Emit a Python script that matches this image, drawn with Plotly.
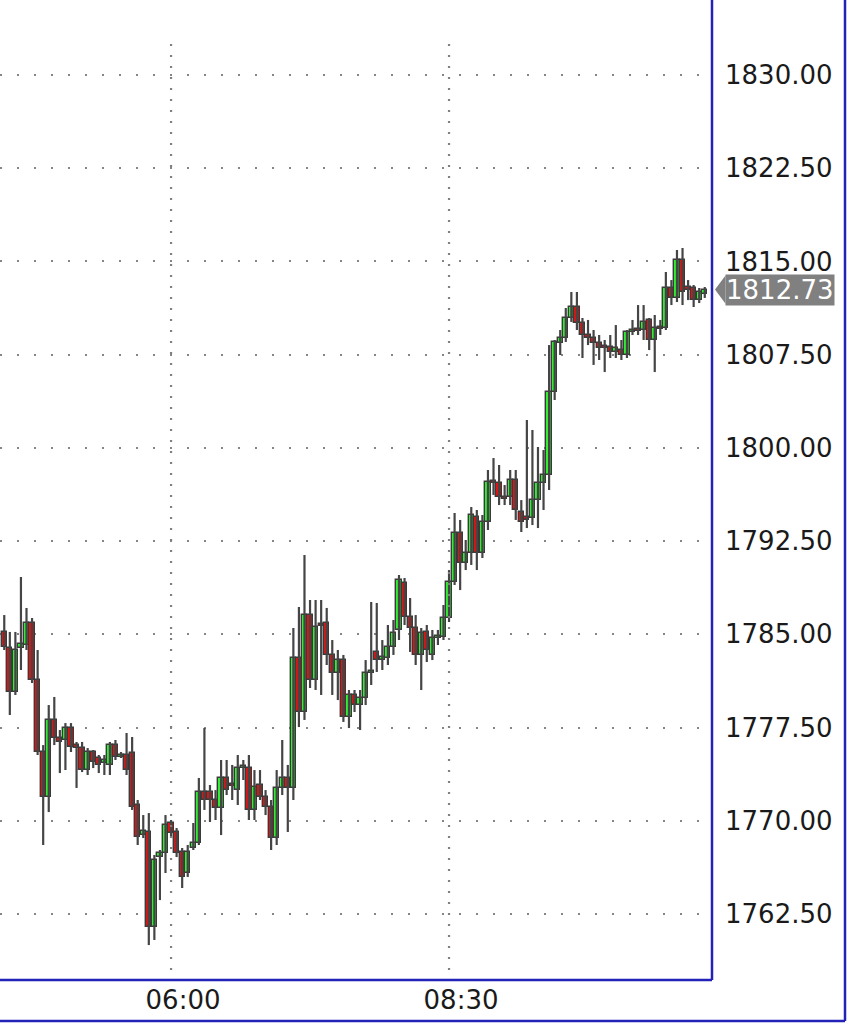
import plotly.graph_objects as go
import pandas as pd

# ---- data (3-minute candles, 04:30 .. 10:48) ----
opens = [
    1785.19, 1783.90, 1780.36, 1783.90, 1784.14, 1785.91, 1781.32, 1775.53, 1771.91, 1778.11,
    1776.66, 1776.50, 1777.46, 1776.09, 1775.85, 1774.08, 1775.53, 1775.05, 1774.65, 1774.49,
    1776.09, 1775.13, 1775.29, 1775.45, 1771.27, 1768.85, 1769.10, 1761.45, 1767.08, 1767.41,
    1769.82, 1769.10, 1767.49, 1765.80, 1767.81, 1768.21, 1772.31, 1772.31, 1771.67, 1771.03,
    1773.44, 1772.88, 1772.47, 1774.24, 1774.24, 1770.87, 1772.88, 1771.91, 1771.11, 1768.61,
    1772.64, 1773.44, 1772.64, 1783.09, 1778.75, 1786.55, 1781.32, 1785.75, 1785.91, 1783.34,
    1781.89, 1782.93, 1778.35, 1780.12, 1779.31, 1779.88, 1781.89, 1783.58, 1782.93, 1783.09,
    1783.98, 1785.35, 1789.13, 1786.39, 1785.51, 1783.34, 1785.19, 1783.34, 1784.70, 1784.78,
    1786.31, 1789.21, 1793.15, 1790.74, 1791.54, 1794.44, 1791.54, 1794.04, 1797.25, 1797.17,
    1796.05, 1796.05, 1797.41, 1794.84, 1794.44, 1794.36, 1795.80, 1797.17, 1797.82, 1804.49,
    1808.44, 1808.84, 1810.45, 1811.33, 1810.04, 1809.08, 1808.84, 1808.44, 1808.11, 1808.11,
    1807.71, 1807.87, 1807.47, 1809.32, 1809.48, 1809.48, 1810.29, 1808.68, 1809.64, 1809.64,
    1812.86, 1812.06, 1815.11, 1812.94, 1812.86, 1811.89, 1812.38,
]
highs = [
    1786.55, 1785.19, 1785.19, 1789.61, 1787.12, 1786.31, 1783.74, 1776.09, 1779.31, 1779.96,
    1777.30, 1777.86, 1777.86, 1776.34, 1776.34, 1775.85, 1775.69, 1775.29, 1775.29, 1776.34,
    1776.50, 1775.53, 1777.06, 1776.74, 1771.67, 1770.46, 1770.62, 1767.25, 1767.65, 1770.46,
    1770.06, 1769.42, 1767.81, 1768.05, 1769.82, 1773.44, 1777.46, 1772.88, 1772.47, 1774.89,
    1774.89, 1774.49, 1775.29, 1774.89, 1775.29, 1774.08, 1774.08, 1772.47, 1771.67, 1774.08,
    1776.50, 1774.49, 1785.51, 1787.20, 1791.38, 1787.76, 1787.76, 1787.76, 1787.12, 1784.54,
    1783.74, 1783.34, 1780.52, 1780.52, 1780.52, 1782.93, 1787.60, 1787.52, 1784.54, 1785.75,
    1786.15, 1789.77, 1789.53, 1787.92, 1786.55, 1785.51, 1785.75, 1785.35, 1785.35, 1787.36,
    1790.17, 1794.76, 1794.20, 1792.59, 1795.24, 1795.00, 1794.60, 1798.22, 1799.18, 1798.62,
    1797.01, 1798.22, 1798.22, 1795.80, 1802.24, 1801.44, 1800.07, 1799.83, 1808.27, 1808.68,
    1809.48, 1811.25, 1812.54, 1812.54, 1810.45, 1810.29, 1809.48, 1809.08, 1808.68, 1809.08,
    1809.88, 1808.68, 1809.48, 1810.29, 1811.49, 1811.49, 1810.45, 1810.69, 1810.29, 1814.15,
    1813.50, 1815.92, 1816.08, 1813.50, 1813.10, 1812.86, 1812.94,
]
lows = [
    1783.74, 1778.51, 1780.12, 1782.13, 1783.74, 1781.08, 1775.29, 1768.05, 1770.70, 1776.09,
    1773.84, 1774.08, 1775.53, 1772.64, 1773.92, 1773.68, 1774.24, 1773.84, 1773.68, 1773.68,
    1774.89, 1775.05, 1773.68, 1770.87, 1768.05, 1768.61, 1760.00, 1760.41, 1763.62, 1765.80,
    1768.61, 1767.08, 1764.59, 1765.48, 1767.65, 1768.05, 1770.87, 1769.90, 1770.06, 1768.85,
    1772.07, 1771.67, 1771.27, 1773.28, 1770.06, 1770.06, 1771.67, 1770.46, 1767.65, 1768.05,
    1772.07, 1769.10, 1771.67, 1777.54, 1778.11, 1780.68, 1780.52, 1780.12, 1782.53, 1780.12,
    1779.71, 1777.95, 1777.46, 1778.75, 1777.30, 1779.31, 1780.92, 1781.97, 1782.13, 1782.53,
    1783.34, 1784.54, 1785.75, 1783.58, 1782.53, 1780.52, 1782.77, 1782.93, 1784.14, 1784.54,
    1785.99, 1788.97, 1788.56, 1790.17, 1790.58, 1790.17, 1791.14, 1793.39, 1796.21, 1795.40,
    1795.40, 1795.40, 1794.20, 1793.23, 1793.55, 1793.79, 1793.55, 1795.00, 1796.61, 1803.85,
    1807.47, 1808.52, 1810.13, 1809.48, 1807.23, 1808.27, 1806.67, 1807.07, 1806.10, 1807.23,
    1807.23, 1807.07, 1807.23, 1809.08, 1809.08, 1808.68, 1807.87, 1806.10, 1809.08, 1809.48,
    1811.49, 1811.73, 1811.49, 1811.89, 1811.33, 1811.65, 1812.06,
]
closes = [
    1783.98, 1780.36, 1783.74, 1784.22, 1785.91, 1781.32, 1775.53, 1771.91, 1778.11, 1776.66,
    1776.34, 1777.46, 1775.93, 1775.85, 1774.08, 1775.53, 1774.73, 1774.49, 1774.89, 1776.09,
    1775.13, 1775.29, 1774.08, 1771.11, 1768.69, 1769.18, 1761.45, 1766.84, 1767.41, 1769.66,
    1769.02, 1767.41, 1765.48, 1767.49, 1768.21, 1772.31, 1771.67, 1771.67, 1771.03, 1773.44,
    1772.47, 1772.80, 1774.24, 1774.32, 1770.87, 1772.72, 1771.91, 1771.11, 1768.61, 1772.64,
    1773.44, 1772.64, 1783.09, 1778.75, 1786.55, 1781.32, 1785.59, 1785.67, 1783.34, 1781.89,
    1782.93, 1778.35, 1780.12, 1779.31, 1779.88, 1781.89, 1781.97, 1782.93, 1783.17, 1783.98,
    1785.11, 1789.37, 1786.39, 1785.51, 1783.34, 1785.11, 1783.74, 1784.70, 1784.78, 1786.31,
    1789.21, 1793.15, 1790.74, 1791.54, 1794.60, 1791.54, 1794.04, 1797.25, 1797.17, 1796.05,
    1795.88, 1797.41, 1795.00, 1794.04, 1794.20, 1795.80, 1797.17, 1797.82, 1804.49, 1808.52,
    1808.84, 1810.45, 1811.33, 1810.04, 1809.08, 1808.84, 1808.44, 1808.03, 1808.03, 1807.71,
    1808.03, 1807.47, 1809.32, 1809.48, 1809.40, 1810.13, 1808.68, 1809.64, 1809.56, 1812.86,
    1812.06, 1815.11, 1812.54, 1812.70, 1811.89, 1812.54, 1812.73,
]
y_ticks = [1762.5, 1770.0, 1777.5, 1785.0, 1792.5, 1800.0, 1807.5, 1815.0, 1822.5, 1830.0]
x_tick_labels = ["06:00", "08:30"]
day = "2021-06-01"
first_time = "04:30"
bar_minutes = 3

assert len(opens) == len(highs) == len(lows) == len(closes)

times = pd.date_range(f"{day} {first_time}", periods=len(opens), freq=f"{bar_minutes}min")
x_tick_vals = [pd.Timestamp(f"{day} {t}") for t in x_tick_labels]
bar_ms = bar_minutes * 60 * 1000

UP = "#30ee30"
DOWN = "#e01212"
EDGE = "#3a3a3a"
BLUE = "#2222b8"
FONT = "DejaVu Sans"

fig = go.Figure()

# wicks
wx, wy = [], []
for t, h, l in zip(times, highs, lows):
    wx += [t, t, None]
    wy += [l, h, None]
fig.add_trace(go.Scatter(x=wx, y=wy, mode="lines",
                         line=dict(color="#454545", width=2.2),
                         hoverinfo="skip", showlegend=False))

# bodies
min_body = 0.14
bases = [min(o, c) for o, c in zip(opens, closes)]
heights = [max(abs(c - o), min_body) for o, c in zip(opens, closes)]
colors = [UP if c >= o else DOWN for o, c in zip(opens, closes)]
fig.add_trace(go.Bar(x=times, y=heights, base=bases, width=bar_ms * 0.94,
                     marker=dict(color=colors, line=dict(color=EDGE, width=1.4)),
                     showlegend=False))

# vertical dotted grid lines
for tv in x_tick_vals:
    fig.add_shape(type="line", xref="x", yref="paper", x0=tv, x1=tv,
                  y0=0.0102, y1=0.9612,
                  line=dict(color="#808080", width=2.2, dash="2px,9px"))

# frame lines (blue)
for sh in [
    dict(x0=1, x1=1, y0=0, y1=1.02),
    dict(x0=0, x1=1, y0=0, y1=0),
    dict(x0=-0.01, x1=1.1868, y0=-0.0418, y1=-0.0418),
    dict(x0=1.1868, x1=1.1868, y0=-0.0418, y1=1.02),
]:
    fig.add_shape(type="line", xref="paper", yref="paper",
                  line=dict(color=BLUE, width=2.5), **sh)

# last price tag
last = closes[-1]
half = 1.13
fig.add_shape(type="path", xref="paper", yref="y",
              path=f"M 1.0042 {last} L 1.019 {last + half} L 1.019 {last - half} Z",
              fillcolor="#808080", line=dict(width=0))
fig.add_annotation(xref="paper", yref="y", x=1.018, y=last, xanchor="left",
                   yanchor="middle", text=f"{last:.2f}", showarrow=False,
                   bgcolor="#808080", borderpad=0,
                   font=dict(family=FONT, size=26, color="white"))

x0 = pd.Timestamp(f"{day} 06:00") - pd.Timedelta(minutes=92.3)
x1 = pd.Timestamp(f"{day} 06:00") + pd.Timedelta(minutes=291.9)

fig.update_layout(
    width=852, height=1024,
    margin=dict(l=0, r=140, t=0, b=44),
    paper_bgcolor="white", plot_bgcolor="white",
    barmode="overlay", bargap=0,
    font=dict(family=FONT, size=26, color="#1a1a1a"),
    xaxis=dict(type="date", range=[x0, x1], tickvals=x_tick_vals, ticktext=x_tick_labels,
               showgrid=False, zeroline=False, showline=False, ticks="",
               ticklabelshift=12, ticklabelstandoff=2,
               rangeslider=dict(visible=False)),
    yaxis=dict(side="right", range=[1757.19, 1836.03], tickvals=y_ticks,
               ticktext=[f"{v:.2f}" for v in y_ticks],
               showgrid=True, gridcolor="#858585", gridwidth=2.2, griddash="2px,15px",
               zeroline=False, showline=False, ticks="", ticklabelstandoff=12),
)

fig.write_html(
    "out.html",
    config={"displayModeBar": False},
    post_script="document.body.style.margin='0';document.body.style.overflow='hidden';",
)
